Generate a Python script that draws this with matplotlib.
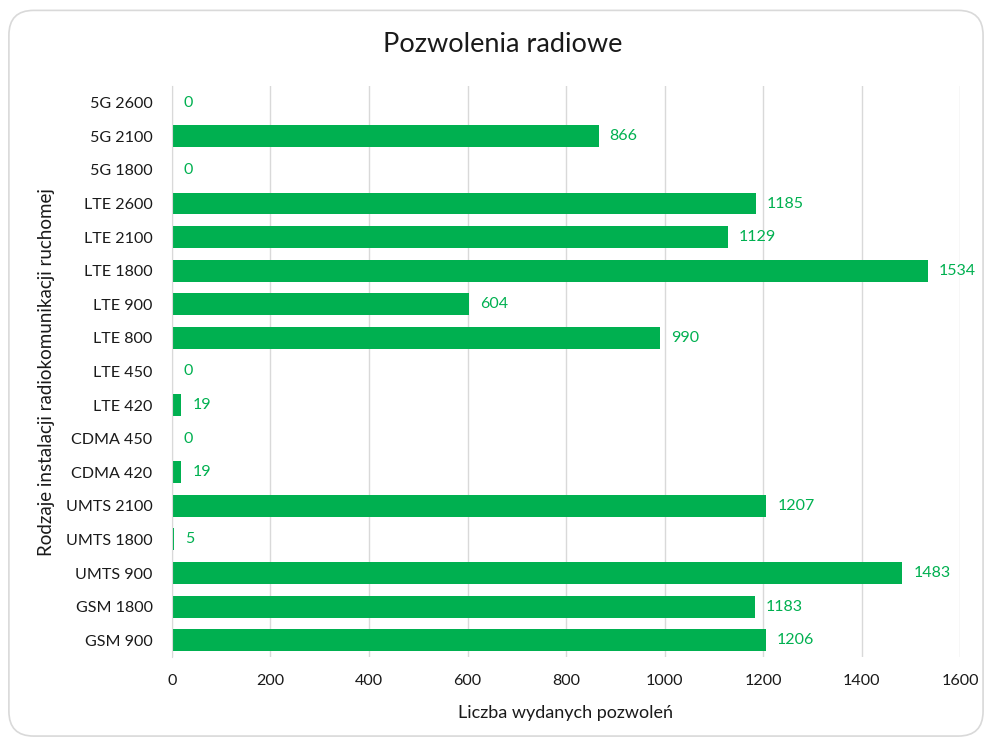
import matplotlib
matplotlib.use('Agg')
import matplotlib.pyplot as plt
from matplotlib.patches import FancyBboxPatch

# DATA (bottom -> top)
categories = ['GSM 900', 'GSM 1800', 'UMTS 900', 'UMTS 1800', 'UMTS 2100',
              'CDMA 420', 'CDMA 450', 'LTE 420', 'LTE 450', 'LTE 800',
              'LTE 900', 'LTE 1800', 'LTE 2100', 'LTE 2600',
              '5G 1800', '5G 2100', '5G 2600']
values = [1206, 1183, 1483, 5, 1207, 19, 0, 19, 0, 990, 604, 1534, 1129, 1185, 0, 866, 0]
x_ticks = [0, 200, 400, 600, 800, 1000, 1200, 1400, 1600]

green = '#00B050'
grid_col = '#D9D9D9'
txt_col = '#1A1A1A'

plt.rcParams['font.family'] = ['Lato', 'DejaVu Sans']

fig = plt.figure(figsize=(9.89, 7.42), dpi=100)

# rounded border like the chart frame
frame = FancyBboxPatch((0.009, 0.008), 0.985, 0.978, boxstyle='round,pad=0,rounding_size=0.025',
                       transform=fig.transFigure, facecolor='white', edgecolor=grid_col,
                       linewidth=1.2, mutation_aspect=989 / 742, zorder=-10)
fig.patches.append(frame)

ax = fig.add_axes([0.1739, 0.1146, 0.7968, 0.7695])
ax.set_zorder(2)
ax.set_facecolor('none')
pos = list(range(len(categories)))
ax.barh(pos, values, height=0.65, color=green, zorder=3)

# data labels, fixed gap right of each bar end
for p, v in zip(pos, values):
    ax.annotate(str(v), xy=(v, p), xytext=(8, 0), textcoords='offset points',
                va='center', ha='left', color=green, fontsize=11.5, zorder=4)

ax.set_xlim(0, 1600)
ax.set_ylim(-0.5, len(categories) - 0.5)
ax.set_xticks(x_ticks)
ax.set_yticks(pos)
ax.set_yticklabels(categories)
ax.tick_params(axis='both', length=0, labelsize=11.6, colors=txt_col)
ax.tick_params(axis='x', pad=12)
ax.tick_params(axis='y', pad=14)

ax.grid(axis='x', color=grid_col, linewidth=1, zorder=0)
for s in ['top', 'right', 'bottom']:
    ax.spines[s].set_visible(False)
ax.spines['left'].set_color(grid_col)
ax.spines['left'].set_zorder(5)

fig.text(565 / 989, 1 - 713 / 742, 'Liczba wydanych pozwoleń', ha='center', va='center',
         fontsize=13, color=txt_col)
fig.text(47 / 989, 1 - 372 / 742, 'Rodzaje instalacji radiokomunikacji ruchomej', ha='center',
         va='center', rotation=90, fontsize=13.5, color=txt_col)

fig.text(503 / 989, 1 - 45 / 742, 'Pozwolenia radiowe', ha='center', va='center', fontsize=19.5, color=txt_col)

fig.savefig('out.png', dpi=100)
